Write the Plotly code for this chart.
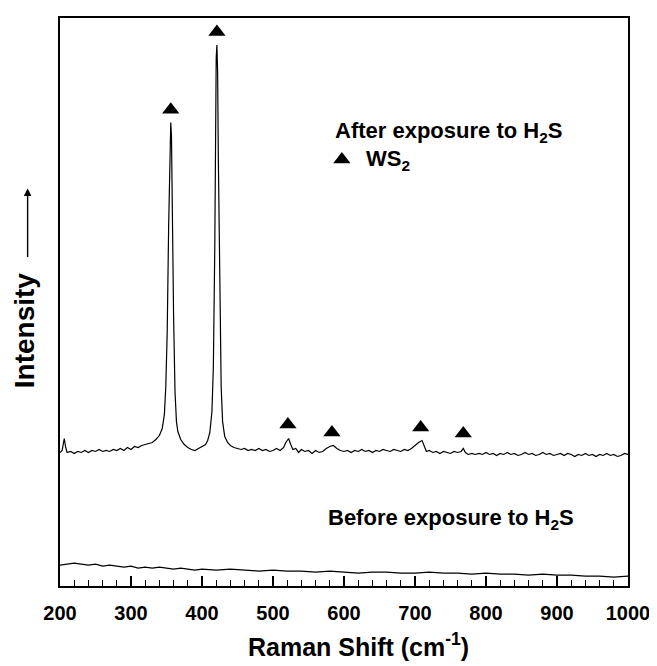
import plotly.graph_objects as go

# ---- data (arbitrary intensity units) ----
after_spectrum = [
    (200, 134), (203, 136), (205, 144), (206, 148), (208, 139), (210, 134), (215, 135), (220, 133),
    (225, 135), (230, 134), (235, 136), (240, 134), (245, 136), (250, 135), (255, 137), (260, 135),
    (265, 136), (270, 135), (275, 137), (280, 136), (285, 138), (290, 136), (295, 139), (300, 137),
    (305, 140), (310, 139), (315, 141), (320, 142), (325, 143), (330, 144), (335, 147), (340, 151),
    (344, 158), (347, 172), (349, 200), (351, 255), (353, 360), (355, 440), (356, 465), (357, 452),
    (358, 385), (360, 270), (362, 195), (364, 165), (366, 155), (370, 147), (375, 142), (380, 139),
    (385, 137), (390, 136), (395, 138), (400, 140), (405, 142), (408, 146), (411, 154), (414, 175),
    (416, 220), (418, 340), (419, 450), (420, 530), (421, 543), (422, 515), (423, 430), (425, 295),
    (427, 200), (429, 165), (432, 150), (436, 144), (440, 141), (445, 139), (450, 138), (455, 137),
    (460, 138), (465, 136), (470, 137), (475, 136), (480, 138), (485, 136), (490, 137), (495, 135),
    (500, 136), (505, 138), (510, 136), (515, 139), (518, 144), (522, 148), (525, 142), (528, 137),
    (532, 138), (536, 134), (540, 137), (545, 135), (550, 136), (555, 133), (560, 136), (565, 134),
    (570, 135), (575, 138), (580, 140), (585, 141), (590, 138), (595, 136), (600, 135), (605, 136),
    (610, 134), (615, 136), (620, 135), (625, 137), (630, 135), (635, 136), (640, 134), (645, 136),
    (650, 135), (655, 137), (660, 136), (665, 135), (670, 137), (675, 136), (680, 135), (685, 137),
    (690, 136), (695, 138), (700, 141), (705, 144), (710, 146), (713, 140), (716, 135), (720, 136),
    (725, 134), (730, 135), (735, 133), (740, 135), (745, 134), (750, 133), (755, 135), (760, 134),
    (765, 135), (768, 138), (771, 134), (775, 132), (780, 133), (785, 132), (790, 133), (795, 132),
    (800, 134), (805, 132), (810, 133), (815, 131), (820, 133), (825, 132), (830, 134), (835, 132),
    (840, 133), (845, 131), (850, 132), (855, 134), (860, 132), (865, 133), (870, 131), (875, 132),
    (880, 134), (885, 132), (890, 133), (895, 131), (900, 132), (905, 133), (910, 131), (915, 133),
    (920, 132), (925, 130), (930, 132), (935, 131), (940, 133), (945, 131), (950, 132), (955, 130),
    (960, 132), (965, 131), (970, 133), (975, 131), (980, 132), (985, 130), (990, 131), (995, 133),
    (1000, 132),
]
after_shift = [p[0] for p in after_spectrum]
after_intensity = [p[1] for p in after_spectrum]

before_shift = [200, 210, 220, 230, 240, 250, 260, 270, 280, 290, 300, 310, 320, 330, 340, 350, 360, 370,
                380, 390, 400, 420, 440, 460, 480, 500, 520, 540, 560, 580, 600, 620, 640, 660, 680, 700,
                720, 740, 760, 780, 800, 820, 840, 860, 880, 900, 920, 940, 960, 980, 1000]
before_intensity = [21, 22, 23, 22, 21, 22, 20, 21, 20, 19, 20, 18, 19, 18, 19, 18, 17, 18,
                    17, 16, 17, 16, 17, 16, 15, 16, 15, 15, 14, 15, 14, 13, 14, 14, 13, 13,
                    14, 13, 13, 12, 13, 12, 12, 11, 12, 11, 11, 10, 10, 9, 10]

ws2_peak_shift = [356, 421, 521, 583, 708, 768]
ws2_marker_intensity = [478, 556, 162, 154, 159, 153]

x_ticks = [200, 300, 400, 500, 600, 700, 800, 900, 1000]

FONT = "Liberation Sans"

fig = go.Figure()
fig.add_trace(go.Scatter(x=after_shift, y=after_intensity, mode="lines",
                         line=dict(color="black", width=1.2), hoverinfo="skip"))
fig.add_trace(go.Scatter(x=before_shift, y=before_intensity, mode="lines",
                         line=dict(color="black", width=1.2), hoverinfo="skip"))
fig.add_trace(go.Scatter(x=ws2_peak_shift, y=ws2_marker_intensity, mode="markers",
                         marker=dict(symbol="triangle-up", size=15, color="black"), hoverinfo="skip"))
# legend glyph
fig.add_trace(go.Scatter(x=[597], y=[428], mode="markers",
                         marker=dict(symbol="triangle-up", size=15, color="black"), hoverinfo="skip"))

annots = [
    dict(x=585, y=456, xref="x", yref="y", text="After exposure to H<sub>2</sub>S",
         xanchor="left", yanchor="middle", showarrow=False),
    dict(x=628, y=428, xref="x", yref="y", text="WS<sub>2</sub>",
         xanchor="left", yanchor="middle", showarrow=False),
    dict(x=575, y=67, xref="x", yref="y", text="Before exposure to H<sub>2</sub>S",
         xanchor="left", yanchor="middle", showarrow=False),
]
for a in annots:
    a["font"] = dict(family=FONT, size=22, color="black", weight="bold")
    fig.add_annotation(**a)

# y-axis title with arrow
fig.add_annotation(x=-0.062, y=0.45, xref="paper", yref="paper", text="Intensity",
                   textangle=-90, showarrow=False, xanchor="center", yanchor="middle",
                   font=dict(family=FONT, size=28, color="black", weight="bold"))
fig.add_annotation(x=-0.057, y=0.70, xref="paper", yref="paper", text="",
                   showarrow=True, ax=0, ay=70, arrowhead=2, arrowsize=1.1, arrowwidth=1.4,
                   arrowcolor="black")

# x-axis title
fig.add_annotation(x=0.525, y=-0.104, xref="paper", yref="paper",
                   text="Raman Shift (cm<sup>-1</sup>)", showarrow=False,
                   xanchor="center", yanchor="middle",
                   font=dict(family=FONT, size=25, color="black", weight="bold"))

fig.update_layout(
    width=657, height=666,
    margin=dict(l=52, r=37, t=8, b=88),
    paper_bgcolor="white", plot_bgcolor="white",
    showlegend=False,
    font=dict(family=FONT, color="black"),
)
fig.update_xaxes(range=[200, 1000], tickvals=x_ticks, ticktext=[str(v) for v in x_ticks],
                 ticks="inside", ticklen=10, tickwidth=1.5, tickcolor="black",
                 minor=dict(dtick=20, ticks="inside", ticklen=6, tickwidth=1.2, tickcolor="black"),
                 showline=True, linewidth=2, linecolor="black", mirror=True,
                 showgrid=False, zeroline=False, ticklabelstandoff=8,
                 tickfont=dict(family=FONT, size=20, color="black", weight="bold"))
fig.update_yaxes(range=[0, 570], showticklabels=False, ticks="",
                 showline=True, linewidth=2, linecolor="black", mirror=True,
                 showgrid=False, zeroline=False)

fig.write_html("out.html")
